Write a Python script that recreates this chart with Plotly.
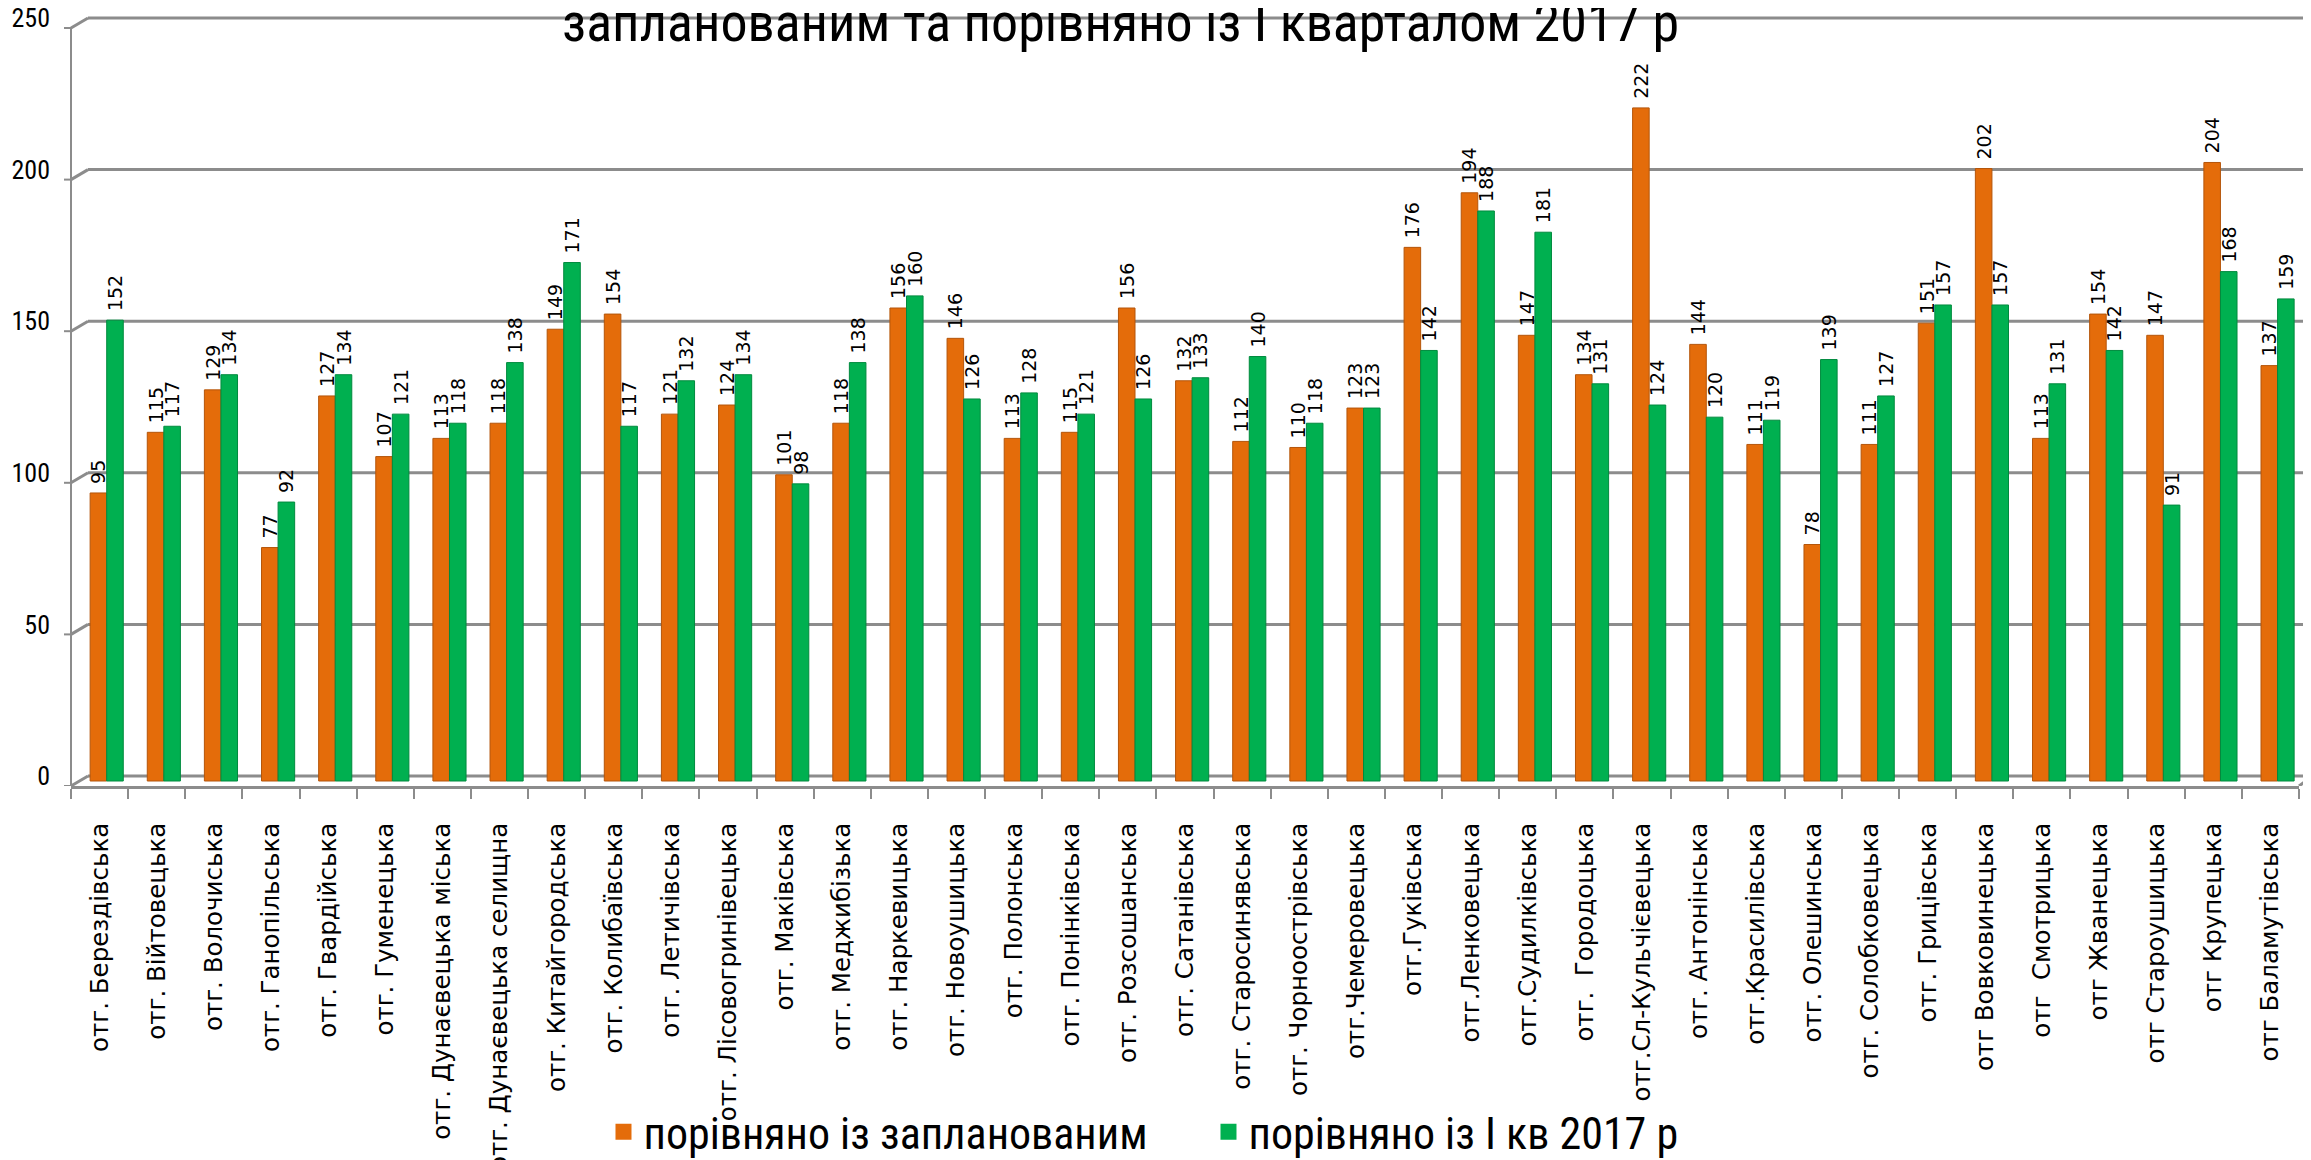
import plotly.graph_objects as go

# ---------------- data ----------------
categories = [
    "отг. Берездівська", "отг. Війтовецька", "отг. Волочиська", "отг. Ганопільська",
    "отг. Гвардійська", "отг. Гуменецька", "отг. Дунаєвецька міська",
    "отг. Дунаєвецька селищна", "отг. Китайгородська", "отг. Колибаївська",
    "отг. Летичівська", "отг. Лісовогринівецька", "отг. Маківська", "отг. Меджибізька",
    "отг. Наркевицька", "отг. Новоушицька", "отг. Полонська", "отг. Понінківська",
    "отг. Розсошанська", "отг. Сатанівська", "отг. Старосинявська",
    "отг. Чорноострівська", "отг.Чемеровецька", "отг.Гуківська", "отг.Ленковецька",
    "отг.Судилківська", "отг.  Городоцька", "отг.Сл-Кульчієвецька", "отг. Антонінська",
    "отг.Красилівська", "отг. Олешинська", "отг. Солобковецька", "отг. Грицівська",
    "отг Вовковинецька", "отг  Смотрицька", "отг Жванецька", "отг Староушицька",
    "отг Крупецька", "отг Баламутівська",
]
planned = [95, 115, 129, 77, 127, 107, 113, 118, 149, 154, 121, 124, 101, 118, 156,
           146, 113, 115, 156, 132, 112, 110, 123, 176, 194, 147, 134, 222, 144, 111,
           78, 111, 151, 202, 113, 154, 147, 204, 137]
vs_q1_2017 = [152, 117, 134, 92, 134, 121, 118, 138, 171, 117, 132, 134, 98, 138, 160,
              126, 128, 121, 126, 133, 140, 118, 123, 142, 188, 181, 131, 124, 120, 119,
              139, 127, 157, 157, 131, 142, 91, 168, 159]
series_names = ["порівняно із запланованим", "порівняно із І кв 2017 р"]
y_ticks = [0, 50, 100, 150, 200, 250]
title_text = "запланованим та порівняно із І кварталом 2017 р"

# ---------------- style ----------------
W, H = 2311, 1160
ORANGE = "#E46C0A"
ORANGE_EDGE = "#B4550A"
GREEN = "#00B050"
GREEN_EDGE = "#008A3E"
GRID = "#8C8C8C"
NARROW = "Roboto Condensed, Roboto, sans-serif"
K = 3.032            # px per value unit
FRONT, BACK = -5, 5  # pseudo-3D plane offsets in px (relative to bar plane)
DEPTH_X = 17         # depth shift in px
M_L, M_R, M_T, M_B = 63, 20, 7, 382
plot_w = W - M_L - M_R
plot_h = H - M_T - M_B
y_lo = FRONT / K
y_hi = plot_h / K + y_lo

fig = go.Figure()

label_font = dict(family="DejaVu Sans", size=19, color="black")
fig.add_trace(go.Bar(
    x=categories, y=planned, name=series_names[0], showlegend=False,
    marker=dict(color=ORANGE, line=dict(color=ORANGE_EDGE, width=1)),
    width=0.29, offset=-0.165,
    text=planned, texttemplate="\u00a0%{text}", textposition="outside", textangle=-90,
    constraintext="none", textfont=label_font, cliponaxis=False,
))
fig.add_trace(go.Bar(
    x=categories, y=vs_q1_2017, name=series_names[1], showlegend=False,
    marker=dict(color=GREEN, line=dict(color=GREEN_EDGE, width=1)),
    width=0.29, offset=0.125,
    text=vs_q1_2017, texttemplate="\u00a0%{text}", textposition="outside", textangle=-90,
    constraintext="none", textfont=label_font, cliponaxis=False,
))
# legend entries
for nm, col in zip(series_names, [ORANGE, GREEN]):
    fig.add_trace(go.Scatter(x=[None], y=[None], mode="markers", name=nm,
                             marker=dict(symbol="square", size=18, color=col)))

shapes = []
for v in y_ticks:
    common = dict(type="line", xref="paper", yref="y", xsizemode="pixel",
                  ysizemode="pixel", xanchor=0, yanchor=v,
                  line=dict(color=GRID, width=3), layer="below")
    # back-wall gridline
    shapes.append(dict(common, x0=DEPTH_X, x1=plot_w + 14, y0=BACK, y1=BACK))
    # diagonal connector from front axis to back wall
    shapes.append(dict(common, x0=0, x1=DEPTH_X, y0=FRONT, y1=BACK))
    # front tick mark
    shapes.append(dict(common, x0=-7, x1=0, y0=FRONT, y1=FRONT,
                       line=dict(color=GRID, width=2)))
# right diagonal of the floor
shapes.append(dict(type="line", xref="paper", yref="y", xsizemode="pixel",
                   ysizemode="pixel", xanchor=1, yanchor=0, x0=0, x1=14,
                   y0=FRONT, y1=BACK, line=dict(color=GRID, width=3), layer="below"))
# front vertical axis
shapes.append(dict(type="line", xref="paper", yref="y", x0=0, x1=0,
                   y0=y_lo, y1=y_ticks[-1] + FRONT / K,
                   line=dict(color=GRID, width=2), layer="below"))

annotations = [dict(text=title_text, xref="paper", yref="paper",
                    x=(1112 - M_L) / plot_w, xanchor="center",
                    y=(H - M_B - 15) / plot_h, yanchor="middle", showarrow=False,
                    font=dict(family=NARROW, size=54, color="black"))]

fig.update_layout(
    width=W, height=H,
    margin=dict(l=M_L, r=M_R, t=M_T, b=M_B, autoexpand=False),
    paper_bgcolor="white", plot_bgcolor="white",
    barmode="overlay",
    shapes=shapes,
    annotations=annotations,
    legend=dict(orientation="h", x=0.239, xanchor="left", y=-0.449, yanchor="middle",
                font=dict(family=NARROW, size=44, color="black"),
                itemsizing="trace", entrywidth=560, entrywidthmode="pixels",
                bgcolor="rgba(0,0,0,0)"),
    font=dict(family="DejaVu Sans", color="black"),
)
fig.update_xaxes(
    type="category", range=[-0.5, len(categories) - 0.5],
    showline=True, linecolor=GRID, linewidth=3,
    ticks="outside", tickson="boundaries", ticklen=10, tickwidth=2, tickcolor=GRID,
    tickangle=-90, ticklabelstandoff=24,
    tickfont=dict(family="DejaVu Sans", size=24.5, color="black"),
    showgrid=False, zeroline=False,
)
fig.update_yaxes(
    range=[y_lo, y_hi], tickvals=y_ticks, ticks="", showline=False,
    showgrid=False, zeroline=False, ticklabelshift=FRONT, ticklabelstandoff=20,
    ticklabeloverflow="allow",
    tickfont=dict(family=NARROW, size=26, color="black"),
)

fig.write_html("out.html")
